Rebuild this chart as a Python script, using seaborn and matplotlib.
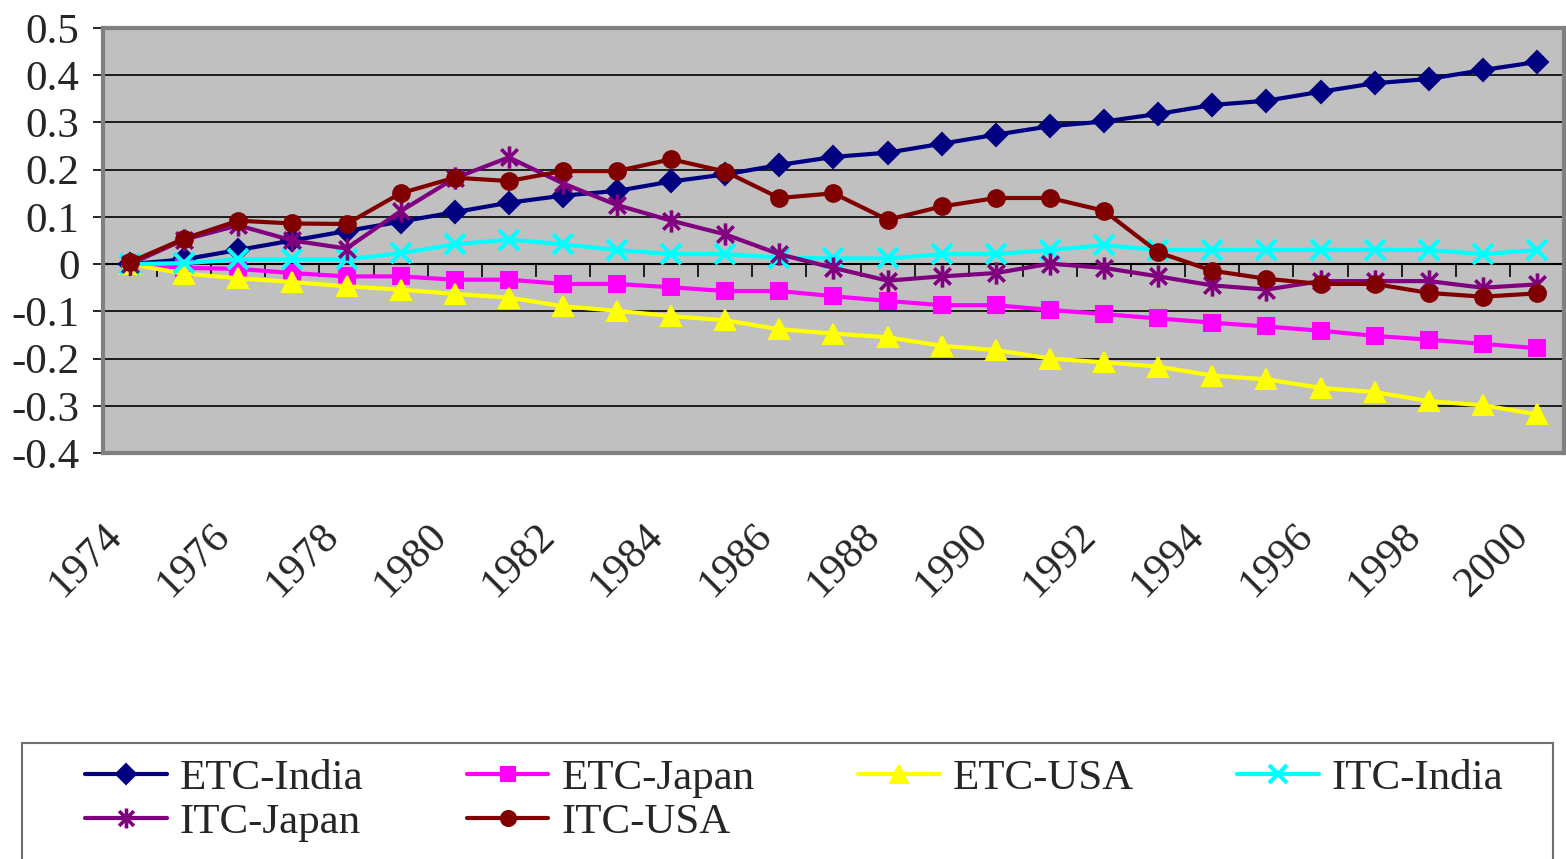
import numpy as np
import pandas as pd
import seaborn as sns
import matplotlib.pyplot as plt
from matplotlib.path import Path
from matplotlib.patches import Rectangle
from matplotlib.transforms import ScaledTranslation

# data
years = list(range(1974, 2001))
etc_india = [0, 0.01, 0.03, 0.05, 0.07, 0.09, 0.11, 0.13, 0.145, 0.155, 0.175, 0.19, 0.21, 0.227,
             0.236, 0.255, 0.274, 0.292, 0.302, 0.318, 0.337, 0.346, 0.365, 0.383, 0.392, 0.411, 0.428]
etc_japan = [0, -0.008, -0.01, -0.019, -0.026, -0.026, -0.033, -0.033, -0.042, -0.042, -0.049, -0.057,
             -0.057, -0.068, -0.078, -0.087, -0.087, -0.097, -0.106, -0.115, -0.124, -0.132, -0.141,
             -0.152, -0.16, -0.169, -0.178]
etc_usa = [0, -0.02, -0.03, -0.038, -0.047, -0.054, -0.063, -0.071, -0.089, -0.099, -0.11, -0.119,
           -0.138, -0.147, -0.155, -0.173, -0.182, -0.2, -0.208, -0.217, -0.236, -0.244, -0.262,
           -0.271, -0.29, -0.299, -0.318]
itc_india = [0, 0.002, 0.01, 0.01, 0.01, 0.023, 0.042, 0.052, 0.042, 0.03, 0.021, 0.021, 0.014, 0.012,
             0.012, 0.021, 0.021, 0.03, 0.04, 0.03, 0.03, 0.03, 0.03, 0.03, 0.03, 0.021, 0.03]
itc_japan = [0, 0.052, 0.082, 0.05, 0.033, 0.112, 0.182, 0.226, 0.171, 0.125, 0.092, 0.063, 0.021,
             -0.008, -0.035, -0.026, -0.019, 0.001, -0.008, -0.026, -0.045, -0.054, -0.036, -0.036,
             -0.036, -0.05, -0.043]
itc_usa = [0.004, 0.054, 0.092, 0.086, 0.085, 0.15, 0.183, 0.176, 0.197, 0.197, 0.222, 0.196, 0.14,
           0.15, 0.094, 0.122, 0.14, 0.14, 0.113, 0.025, -0.014, -0.031, -0.042, -0.042, -0.061,
           -0.069, -0.062]

series_names = ['ETC-India', 'ETC-Japan', 'ETC-USA', 'ITC-India', 'ITC-Japan', 'ITC-USA']
series_values = [etc_india, etc_japan, etc_usa, itc_india, itc_japan, itc_usa]
y_ticks = [-0.4, -0.3, -0.2, -0.1, 0, 0.1, 0.2, 0.3, 0.4, 0.5]
y_tick_labels = ['-0.4', '-0.3', '-0.2', '-0.1', '0', '0.1', '0.2', '0.3', '0.4', '0.5']

# Excel style star: an x with a vertical bar
star = Path([(-1, -1), (1, 1), (-1, 1), (1, -1), (0, -1.35), (0, 1.35)],
            [Path.MOVETO, Path.LINETO, Path.MOVETO, Path.LINETO, Path.MOVETO, Path.LINETO])

styles = {
    'ETC-India': dict(color='#000080', marker='D', ms=11, mew=1.5),
    'ETC-Japan': dict(color='#FF00FF', marker='s', ms=11, mew=1.5),
    'ETC-USA': dict(color='#FFFF00', marker='^', ms=14, mew=1.5),
    'ITC-India': dict(color='#00FFFF', marker='x', ms=14, mew=3),
    'ITC-Japan': dict(color='#800080', marker=star, ms=16, mew=2.6),
    'ITC-USA': dict(color='#800000', marker='o', ms=12, mew=1.5),
}

sns.set_style('white')
plt.rcParams['font.family'] = ['Liberation Serif', 'DejaVu Serif']

fig = plt.figure(figsize=(15.66, 8.59), dpi=100)
ax = fig.add_axes([103 / 1566, 1 - 453 / 859, (1564 - 103) / 1566, (453 - 28) / 859])
ax.set_facecolor('#C0C0C0')

pos = np.arange(len(years))
for name, vals in zip(series_names, series_values):
    st = styles[name]
    sns.lineplot(x=pos, y=vals, color=st['color'], marker=st['marker'], markersize=st['ms'],
                 mec=st['color'], mfc=st['color'], mew=st['mew'], linewidth=3.0, label=name, ax=ax)

ax.set_xlim(-0.5, len(years) - 0.5)
ax.set_ylim(-0.4, 0.5)
ax.set_xlabel('')
ax.set_ylabel('')

# y axis
ax.set_yticks(y_ticks)
ax.set_yticklabels(y_tick_labels)
ax.yaxis.grid(True, color='black', linewidth=1.2)
ax.xaxis.grid(False)
ax.tick_params(axis='y', left=True, direction='out', length=7, width=1.2, color='black',
               labelsize=31, pad=10)

# x labels every second year, rotated
ax.set_xticks(pos[::2])
ax.set_xticklabels([str(y) for y in years[::2]], rotation=45, ha='right', va='center',
                   rotation_mode='anchor')
ax.tick_params(axis='x', bottom=False, labelsize=31, pad=52)
shift = ScaledTranslation(-0.14, 0, fig.dpi_scale_trans)
for lab in ax.get_xticklabels():
    lab.set_transform(lab.get_transform() + shift)

for sp in ax.spines.values():
    sp.set_color('#808080')
    sp.set_linewidth(3)

# category axis at zero with tick marks between categories
sec = ax.secondary_xaxis((0 - (-0.4)) / 0.9)
sec.set_xticks(np.arange(len(years) + 1) - 0.5)
sec.tick_params(axis='x', direction='out', length=9, width=1.2, color='black', labelbottom=False,
                labeltop=False)
sec.spines['bottom'].set_color('black')
sec.spines['bottom'].set_linewidth(1.5)

# legend, filled column by column
handles, labels = ax.get_legend_handles_labels()
if ax.get_legend() is not None:
    ax.get_legend().remove()
order = ['ETC-India', 'ITC-Japan', 'ETC-Japan', 'ITC-USA', 'ETC-USA', 'ITC-India']
hmap = dict(zip(labels, handles))
fig.legend([hmap[n] for n in order], order, loc='upper left',
           bbox_to_anchor=(85 / 1566, 1 - 759 / 859), ncol=4, frameon=False, fontsize=31,
           handlelength=1.9, handletextpad=0.3, columnspacing=2.4, borderpad=0,
           borderaxespad=0, labelspacing=0.1, markerscale=0.9)
fig.patches.append(Rectangle((22 / 1566, -0.02), (1553 - 22) / 1566, (859 - 743) / 859 + 0.02,
                             transform=fig.transFigure, fill=False, edgecolor='#707070',
                             linewidth=1.5))

fig.savefig('out.png', dpi=100)
